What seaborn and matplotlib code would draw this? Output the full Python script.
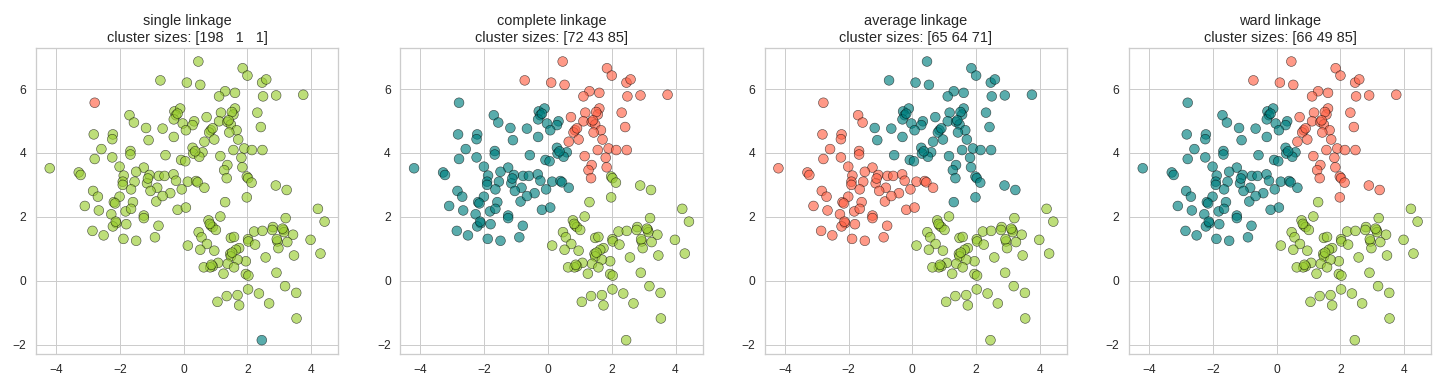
import matplotlib
matplotlib.use("Agg")
import matplotlib.pyplot as plt
import numpy as np
import pandas as pd
import seaborn as sns

sns.set_theme(style="whitegrid")
plt.rcParams["font.family"] = ["Liberation Sans", "DejaVu Sans"]

# Same 200 points in every panel, split into groups by how the linkages label them.
# left blob: teal for complete/ward, red for average
left_x = [-2.79, -1.70, -1.56, -2.82, -2.22, -2.24, -2.58, -2.79, -2.24, -1.67, -1.67, -4.20, -3.29,
          -3.23, -2.01, -1.25, -1.49, -1.07, -1.88, -0.78, -0.60, -0.32, -0.24, 0.13, 0.39, 0.44,
          0.65, -1.91, -1.91, -1.54, -1.15, -0.83, -1.65, -1.04, -0.42, -0.06, -2.84, -2.69, -3.10,
          -2.66, -2.19, -2.01, -2.27, -1.82, -1.59, -1.65, -1.25, -1.25, -0.86, -0.66, -0.19, 0.07,
          -2.11, -2.22, -1.80, -0.79, -2.86, -2.51, -1.89, -1.49, -0.90, -2.15, -2.13, -1.12]
left_y = [5.57, 5.18, 4.95, 4.58, 4.58, 4.43, 4.12, 3.81, 3.86, 4.06, 3.95, 3.52, 3.39,
          3.31, 3.57, 3.54, 3.41, 3.31, 3.29, 3.28, 3.28, 3.33, 3.13, 3.10, 3.12, 3.08,
          2.91, 3.10, 3.00, 3.10, 3.05, 2.91, 2.86, 2.81, 2.74, 2.86, 2.81, 2.63, 2.34,
          2.20, 2.46, 2.63, 2.08, 2.17, 2.46, 2.25, 2.04, 1.96, 2.48, 2.65, 2.22, 2.29,
          1.80, 1.70, 1.77, 1.72, 1.56, 1.42, 1.31, 1.25, 1.36, 2.42, 1.85, 3.20]

# upper middle: teal everywhere except single
upper_x = [-0.29, -0.11, -0.24, -0.31, -0.03, 0.33, 0.28, 0.07, -1.18, -0.66, -1.10, -0.31,
           -0.57, 0.28, 0.59, 0.30, 0.49, -0.08, 0.05, -0.19, 0.36]
upper_y = [5.30, 5.39, 5.18, 5.05, 4.92, 4.99, 4.87, 4.71, 4.78, 4.76, 4.40, 4.50,
           3.93, 4.16, 4.02, 3.98, 3.88, 3.78, 3.74, 5.23, 4.05]

# upper right: red for complete/ward, teal for average
top_x = [0.46, 1.85, 2.00, -0.73, 0.10, 0.52, 2.46, 2.59, 1.30, 1.11, 1.61, 2.49, 2.90, 3.75,
         2.31, 1.61, 1.56, 1.17, 0.72, 1.11, 1.37, 1.48, 2.42, 1.66, 1.43, 0.85, 0.80, 0.91,
         0.65, 0.96, 1.71, 1.56, 1.90, 2.14, 2.47, 1.15, 1.81, 1.37, 1.27, 1.84, 1.35, 1.51, 1.41]
top_y = [6.86, 6.65, 6.42, 6.27, 6.20, 6.13, 6.20, 6.30, 5.93, 5.77, 5.88, 5.77, 5.80, 5.82,
         5.26, 5.39, 5.20, 5.26, 5.12, 4.99, 4.97, 4.89, 4.81, 4.71, 4.64, 4.71, 4.64, 4.77,
         4.35, 4.42, 4.42, 4.09, 4.14, 4.09, 4.09, 3.90, 3.85, 3.62, 3.46, 3.55, 3.21, 5.28, 5.02]

# between top and bottom: green complete, red ward, teal average
bridge_x = [1.98, 2.02, 2.13, 2.89, 3.23, 1.98]
bridge_y = [3.26, 3.21, 3.07, 2.98, 2.84, 2.61]

# one point that only average moves
lone_x = [1.30]
lone_y = [2.46]

# lower right blob: green everywhere
low_x = [4.21, 4.42, 1.15, 0.78, 0.85, 0.91, 1.01, 0.47, 0.56, 0.73, 0.13, 0.52, 0.96, 1.48,
         1.58, 2.02, 2.03, 2.21, 2.47, 2.80, 2.78, 3.13, 3.15, 3.20, 3.43, 2.94, 2.97, 3.25,
         3.98, 4.29, 3.46, 2.57, 2.24, 1.74, 1.64, 1.46, 1.48, 1.95, 1.69, 1.38, 1.58, 1.08,
         0.91, 0.83, 0.63, 1.25, 1.95, 2.03, 2.91, 2.02, 2.36, 1.69, 1.74, 1.35, 1.06, 2.68,
         3.18, 3.53, 3.54, 0.82, 1.52, 2.92, 3.10, 0.87, 2.45]
low_y = [2.25, 1.85, 2.01, 1.89, 1.73, 1.68, 1.59, 1.52, 1.36, 1.15, 1.10, 0.97, 0.94, 1.34,
         1.37, 1.30, 1.23, 1.54, 1.56, 1.68, 1.59, 1.59, 1.52, 1.96, 1.44, 1.23, 1.02, 1.21,
         1.28, 0.85, 0.79, 0.73, 1.13, 1.02, 0.97, 0.84, 0.76, 0.61, 0.66, 0.53, 0.42, 0.56,
         0.45, 0.42, 0.42, 0.22, 0.21, 0.16, 0.25, -0.27, -0.40, -0.45, -0.77, -0.48, -0.66, -0.71,
         -0.17, -0.38, -1.18, 1.78, 0.88, 1.30, 1.63, 0.50, -1.86]

methods = ["single", "complete", "average", "ward"]
# cluster id per group for each method (0 green, 1 red, 2 teal)
group_ids = {
    "left":   [0, 2, 1, 2],
    "upper":  [0, 2, 2, 2],
    "top":    [0, 1, 2, 1],
    "bridge": [0, 0, 2, 1],
    "lone":   [0, 0, 2, 0],
    "low":    [0, 0, 0, 0],
}
# single linkage peels off two lone points
single_red = ("left", 0)
single_teal = ("low", len(low_x) - 1)

palette = {0: "yellowgreen", 1: "tomato", 2: "teal"}

groups = {
    "left": (left_x, left_y), "upper": (upper_x, upper_y), "top": (top_x, top_y),
    "bridge": (bridge_x, bridge_y), "lone": (lone_x, lone_y), "low": (low_x, low_y),
}
rows = []
for g, (gx, gy) in groups.items():
    for i, (px, py) in enumerate(zip(gx, gy)):
        row = {"x": px, "y": py}
        for m, lab in zip(methods, group_ids[g]):
            row[m] = lab
        if (g, i) == single_red:
            row["single"] = 1
        if (g, i) == single_teal:
            row["single"] = 2
        rows.append(row)
df = pd.DataFrame(rows)

fig, axes = plt.subplots(1, 4, figsize=(20, 5.375))
for ax, m in zip(axes, methods):
    sns.scatterplot(data=df, x="x", y="y", hue=m, palette=palette, s=95, alpha=0.65,
                    edgecolor="black", linewidth=0.6, legend=False, ax=ax)
    sizes = np.bincount(df[m], minlength=3)
    ax.set_title(f"{m} linkage\ncluster sizes: {sizes}", fontsize=14.5)
    ax.set_xlabel("")
    ax.set_ylabel("")
    ax.tick_params(labelsize=12)
    for sp in ax.spines.values():
        sp.set_linewidth(1.3)

fig.subplots_adjust(left=0.025, right=0.994, top=0.877, bottom=0.085, wspace=0.205)
fig.savefig("out.png", dpi=72)
plt.close(fig)
